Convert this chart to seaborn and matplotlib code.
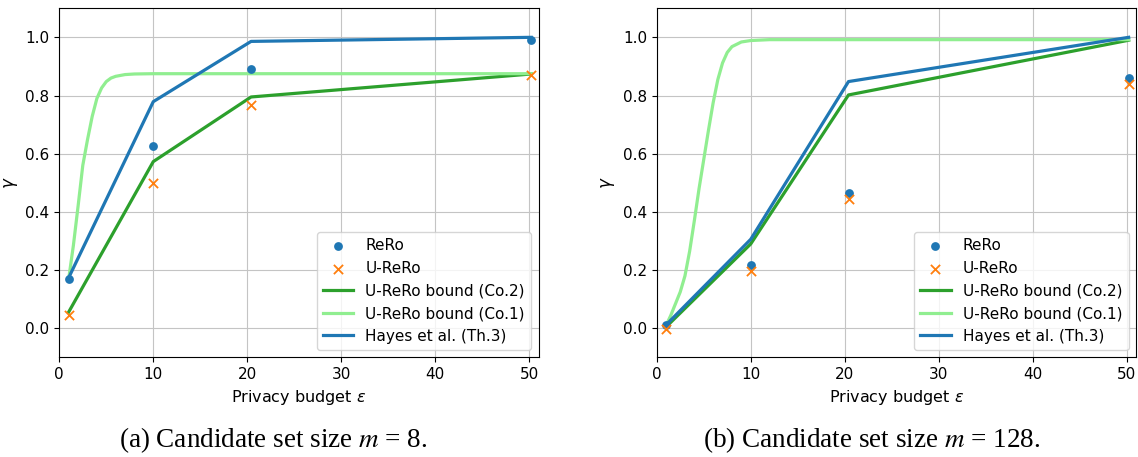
import matplotlib
matplotlib.use("Agg")
import matplotlib.pyplot as plt
import seaborn as sns
import numpy as np

# ---- data ----
eps = [1.0, 10.0, 20.4, 50.2]

rero_m8 = [0.170, 0.626, 0.890, 0.991]
urero_m8 = [0.046, 0.500, 0.766, 0.869]
co2_m8 = [0.056, 0.573, 0.795, 0.874]
hayes_m8 = [0.174, 0.779, 0.986, 1.000]

rero_m128 = [0.011, 0.218, 0.465, 0.859]
urero_m128 = [-0.003, 0.198, 0.443, 0.840]
co2_m128 = [0.005, 0.290, 0.802, 0.990]
hayes_m128 = [0.012, 0.306, 0.848, 1.000]

# Co.1 bound
co1_eps_m8 = [1.0, 1.5, 2.0, 2.5, 3.0, 3.5, 4.0, 4.5, 5.0, 5.5, 6.0, 7.0, 8.0, 10.0, 20.4, 50.2]
co1_m8 = [0.170, 0.285, 0.420, 0.560, 0.648, 0.728, 0.790, 0.826, 0.848, 0.860, 0.866, 0.872, 0.874, 0.875, 0.875, 0.875]

co1_eps_m128 = [1.0, 1.5, 2.0, 2.5, 3.0, 3.5, 4.0, 4.5, 5.0, 5.5, 6.0, 6.5, 7.0, 7.5, 8.0, 9.0, 10.0, 12.0, 20.4, 50.2]
co1_m128 = [0.010, 0.045, 0.085, 0.125, 0.180, 0.265, 0.370, 0.480, 0.580, 0.680, 0.775, 0.855, 0.912, 0.948, 0.968, 0.984, 0.989, 0.992, 0.992, 0.992]

panels = [
    (rero_m8, urero_m8, co2_m8, co1_eps_m8, co1_m8, hayes_m8, "(a) Candidate set size $m$ = 8."),
    (rero_m128, urero_m128, co2_m128, co1_eps_m128, co1_m128, hayes_m128, "(b) Candidate set size $m$ = 128."),
]

xticks = [0, 10, 20, 30, 40, 50]
yticks = [0.0, 0.2, 0.4, 0.6, 0.8, 1.0]

plt.rcParams["font.family"] = ["DejaVu Sans"]
plt.rcParams["font.size"] = 11

fig = plt.figure(figsize=(11.38, 4.57), dpi=100)
ax_lefts = [0.0521, 0.5771]
cap_x = [0.240, 0.766]

blue = "#1f77b4"
orange = "#ff7f0e"
green = "#2ca02c"
lgreen = "#90ee90"

for i, (rero, urero, co2, c1x, c1y, hayes, cap) in enumerate(panels):
    ax = fig.add_axes([ax_lefts[i], 0.2179, 0.4213, 0.7641])
    sns.scatterplot(x=eps, y=rero, ax=ax, color=blue, marker="o", s=40,
                    edgecolor=blue, linewidth=0, label="ReRo", zorder=3)
    sns.scatterplot(x=eps, y=urero, ax=ax, color=orange, marker="x", s=44,
                    linewidth=1.3, label="U-ReRo", zorder=3)
    sns.lineplot(x=eps, y=co2, ax=ax, color=green, linewidth=2.3,
                 label="U-ReRo bound (Co.2)")
    sns.lineplot(x=c1x, y=c1y, ax=ax, color=lgreen, linewidth=2.3,
                 label="U-ReRo bound (Co.1)")
    sns.lineplot(x=eps, y=hayes, ax=ax, color=blue, linewidth=2.3,
                 label="Hayes et al. (Th.3)")
    ax.set_xlim(0, 51)
    ax.set_ylim(-0.1, 1.1)
    ax.set_xticks(xticks)
    ax.set_yticks(yticks)
    ax.grid(True, color="#c4c4c4", linewidth=0.8)
    ax.set_axisbelow(True)
    ax.set_xlabel(r"Privacy budget $\varepsilon$", fontsize=11.5)
    ax.set_ylabel(r"$\gamma$", fontsize=12)
    ax.tick_params(labelsize=11)
    ax.legend(loc="lower right", fontsize=11)
    fig.text(cap_x[i], 0.022, cap, ha="center", va="baseline",
             fontsize=19.5, fontfamily="Liberation Serif", math_fontfamily="stix")

fig.savefig("out.png", dpi=100)
